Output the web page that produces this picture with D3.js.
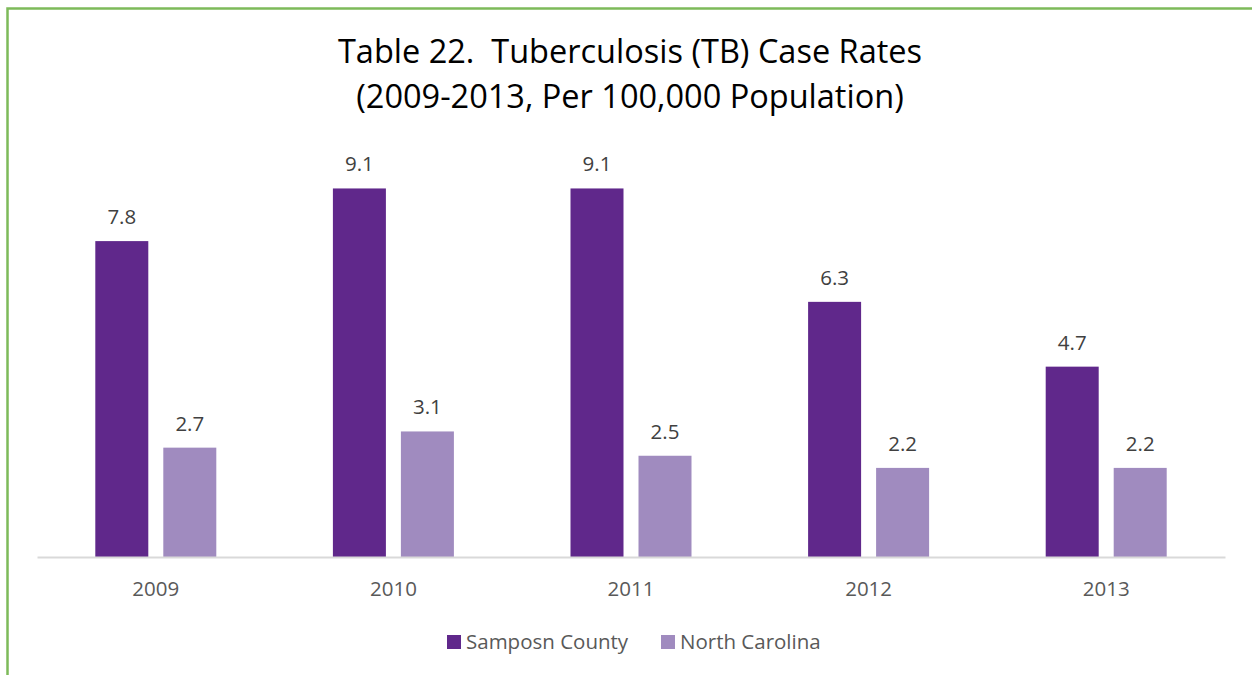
<!DOCTYPE html>
<html><head><meta charset="utf-8">
<script src="https://cdn.jsdelivr.net/npm/d3@7/dist/d3.min.js"></script>
<style>body{margin:0;background:#fff}svg{display:block}text{white-space:pre}</style>
</head><body><svg id="c" width="1252" height="675"></svg>
<script>
const categories = ["2009","2010","2011","2012","2013"];
const seriesNames = ["Samposn County","North Carolina"];
const sampson = [7.8, 9.1, 9.1, 6.3, 4.7];
const northCarolina = [2.7, 3.1, 2.5, 2.2, 2.2];
const colors = ["#60288b","#a08bbf"];
const titleLines = ["Table 22.  Tuberculosis (TB) Case Rates","(2009-2013, Per 100,000 Population)"];

const svg = d3.select("#c");
const font = "'Open Sans', sans-serif";

// border
svg.append("path").attr("d","M7.5,675 V8.5 H1252").attr("fill","none").attr("stroke","#7dba5a").attr("stroke-width",2.5);

const x0 = d3.scaleBand().domain(categories).range([37,1225]).paddingInner(0).paddingOuter(0);
const y = d3.scaleLinear().domain([0,10]).range([557,152]);
const bw = 53, gap = 15;
const x1 = d3.scaleOrdinal().domain([0,1]).range([-(gap/2+bw), gap/2]);

const series = [sampson, northCarolina];
series.forEach((vals, si) => {
  const g = svg.append("g");
  g.selectAll("rect").data(vals).join("rect")
    .attr("x",(d,i)=>x0(categories[i])+x0.bandwidth()/2+x1(si))
    .attr("y",d=>y(d)).attr("width",bw).attr("height",d=>y(0)-y(d))
    .attr("fill",colors[si]);
  g.selectAll("text").data(vals).join("text")
    .attr("x",(d,i)=>x0(categories[i])+x0.bandwidth()/2+x1(si)+bw/2)
    .attr("y",d=>y(d)-17).attr("text-anchor","middle")
    .attr("font-family",font).attr("font-size",20.5).attr("fill","#404040")
    .text(d=>d.toFixed(1));
});

// axis
const ax = svg.append("g").attr("transform","translate(0,557)").call(d3.axisBottom(x0).tickSize(0).tickPadding(0));
ax.select(".domain").attr("stroke","#d9d9d9").attr("stroke-width",2);
ax.selectAll("text").attr("dy",null).attr("y",39).attr("font-family",font).attr("font-size",20.5).attr("fill","#595959");

// title
svg.append("g").selectAll("text").data(titleLines).join("text")
  .attr("x",630).attr("y",(d,i)=>63+i*45).attr("text-anchor","middle")
  .attr("font-family",font).attr("font-size",32.5).attr("fill","#000")
  .text(d=>d);

// legend
const leg = svg.append("g");
const legX = [447, 661];
seriesNames.forEach((n,i)=>{
  leg.append("rect").attr("x",legX[i]).attr("y",635).attr("width",14).attr("height",14).attr("fill",colors[i]);
  leg.append("text").attr("x",legX[i]+19).attr("y",649).attr("font-family",font).attr("font-size",20.5).attr("fill","#595959").text(n);
});
</script></body></html>
